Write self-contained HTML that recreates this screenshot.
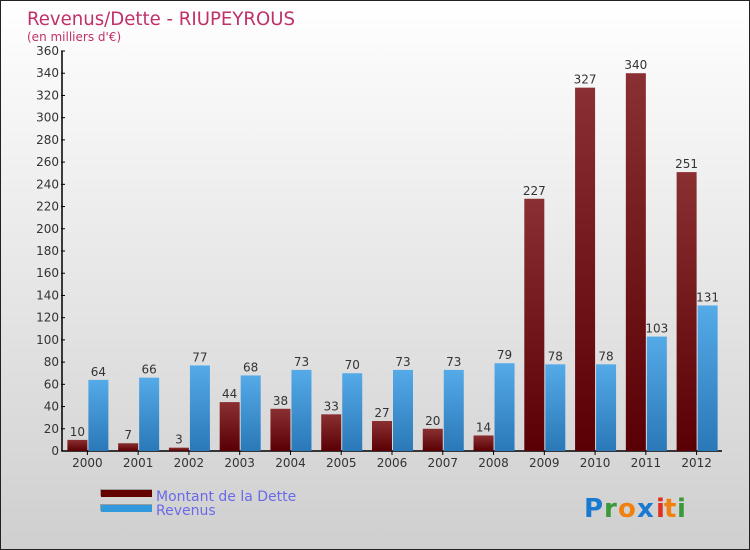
<!DOCTYPE html>
<html><head><meta charset="utf-8"><style>
body{margin:0}
#c{position:relative;width:748px;height:548px;border:1px solid #222;background:linear-gradient(#ffffff,#cfcfcf);font-family:"DejaVu Sans","Liberation Sans",sans-serif;overflow:hidden}
svg text{font-family:"DejaVu Sans","Liberation Sans",sans-serif}
</style></head><body>
<div id="c">
<svg id="s" width="748" height="548">
<defs>
<linearGradient id="gd" x1="0" y1="0" x2="0" y2="1"><stop offset="0" stop-color="#8a3032"/><stop offset="1" stop-color="#5a0004"/></linearGradient>
<linearGradient id="gr" x1="0" y1="0" x2="0" y2="1"><stop offset="0" stop-color="#55aae8"/><stop offset="1" stop-color="#2a78b8"/></linearGradient>
</defs>
<text x="26" y="24" font-size="19" fill="#c0306a" textLength="268" lengthAdjust="spacingAndGlyphs">Revenus/Dette - RIUPEYROUS</text>
<text x="26" y="40" font-size="12" fill="#c0306a">(en milliers d'€)</text>
<g id="plot"></g>
<rect x="99" y="488" width="52" height="7" fill="#666" opacity="0.5"/>
<rect x="100" y="489" width="51" height="7" fill="#650000"/>
<rect x="99" y="503" width="52" height="7" fill="#666" opacity="0.5"/>
<rect x="100" y="504" width="51" height="7" fill="#3399dd"/>
<text x="155" y="500" font-size="14" fill="#6a6ae8">Montant de la Dette</text>
<text x="155" y="514" font-size="14" fill="#6a6ae8">Revenus</text>
<g font-size="26" font-weight="bold">
<text x="583" y="516" fill="#1a7ad0">P</text><text x="603" y="516" fill="#3a9a3a">r</text><text x="617" y="516" fill="#f08010">o</text><text x="636" y="516" fill="#1a7ad0">x</text><text x="655" y="516" fill="#e03020">i</text><text x="663" y="516" fill="#f08010">t</text><text x="676" y="516" fill="#3a9a3a">i</text>
</g>
</svg>
</div>
<script>
const years=["2000","2001","2002","2003","2004","2005","2006","2007","2008","2009","2010","2011","2012"];
const dette=[10,7,3,44,38,33,27,20,14,227,327,340,251];
const revenus=[64,66,77,68,73,70,73,73,79,78,78,103,131];
const yTicks=[0,20,40,60,80,100,120,140,160,180,200,220,240,260,280,300,320,340,360];
const NS="http://www.w3.org/2000/svg";
const g=document.getElementById("plot");
const x0=61,x1=721,y0=450,yTop=50,yMax=360;
const band=(x1-x0)/years.length;
const yS=v=>y0-(v/yMax)*(y0-yTop);
const xC=i=>x0+band*(i+0.5);
function mk(t,a){const e=document.createElementNS(NS,t);for(const k in a)e.setAttribute(k,a[k]);g.appendChild(e);return e;}
let e;
e=mk("line",{x1:x0,y1:yTop,x2:x0,y2:y0,stroke:"#000","stroke-width":1.5});


e=mk("line",{x1:x0,y1:y0,x2:x1,y2:y0,stroke:"#000","stroke-width":1.5});


yTicks.forEach(v=>{
 mk("line",{x1:x0-1,y1:yS(v),x2:x0+3,y2:yS(v),stroke:"#000"});
 e=mk("text",{x:x0-3,y:yS(v)+4,"font-size":12,"text-anchor":"end",fill:"#333"});
 e.textContent=v;
 
 
});
years.forEach((y,i)=>{
 const c=xC(i);
 mk("line",{x1:c,y1:y0,x2:c,y2:y0+4,stroke:"#000"});
 e=mk("text",{x:c,y:y0+16,"font-size":12,"text-anchor":"middle",fill:"#333"});
 e.textContent=y;
 
 
 const w=20;
 e=mk("rect",{x:c-w,y:yS(dette[i]),width:w,height:y0-yS(dette[i]),fill:"url(#gd)"});
 
 
 e=mk("rect",{x:c+1,y:yS(revenus[i]),width:w,height:y0-yS(revenus[i]),fill:"url(#gr)"});
 
 
 e=mk("text",{x:c-w/2,y:yS(dette[i])-4,"font-size":12,"text-anchor":"middle",fill:"#333"});
 e.textContent=dette[i];
 
 
 e=mk("text",{x:c+1+w/2,y:yS(revenus[i])-4,"font-size":12,"text-anchor":"middle",fill:"#333"});
 e.textContent=revenus[i];
 
 
});
</script>
</body></html>
